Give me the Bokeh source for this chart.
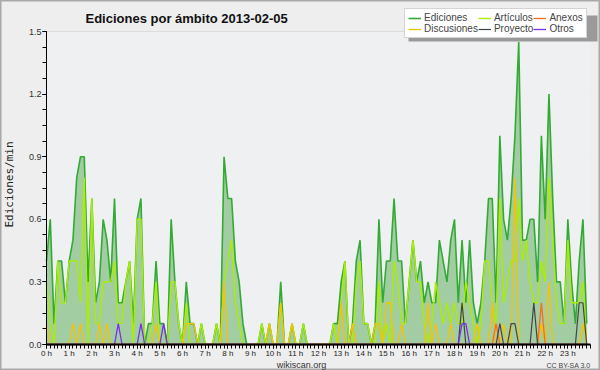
from bokeh.plotting import figure
from bokeh.models import (ColumnDataSource, FixedTicker, Legend, LegendItem, Label,
                          Range1d, PrintfTickFormatter, BoxAnnotation)
from bokeh.embed import file_html
from bokeh.resources import INLINE

# 10-minute steps over the day (index / 6 = hour)
hour_ticks = list(range(24))
hour_labels = [f"{h} h" for h in hour_ticks]
y_ticks = [0, 0.3, 0.6, 0.9, 1.2, 1.5]

ediciones = [
    0.4, 0.6, 0.1, 0.4, 0.4, 0.2, 0.4, 0.5, 0.8, 0.9, 0.9, 0.3,
    0.7, 0.2, 0.3, 0.6, 0.5, 0.3, 0.7, 0.2, 0.2, 0.3, 0.4, 0.1,
    0.6, 0.7, 0.0, 0.1, 0.1, 0.4, 0.1, 0.1, 0.0, 0.6, 0.3, 0.1,
    0.0, 0.3, 0.1, 0.1, 0.0, 0.1, 0.0, 0.0, 0.0, 0.1, 0.0, 0.9,
    0.7, 0.7, 0.4, 0.3, 0.1, 0.0, 0.0, 0.0, 0.0, 0.1, 0.0, 0.1,
    0.0, 0.0, 0.3, 0.0, 0.0, 0.1, 0.0, 0.0, 0.1, 0.0, 0.0, 0.0,
    0.0, 0.0, 0.0, 0.0, 0.1, 0.1, 0.3, 0.4, 0.0, 0.1, 0.4, 0.5,
    0.1, 0.1, 0.0, 0.1, 0.6, 0.2, 0.4, 0.4, 0.7, 0.4, 0.4, 0.1,
    0.3, 0.5, 0.3, 0.4, 0.2, 0.3, 0.2, 0.2, 0.5, 0.4, 0.3, 0.5,
    0.6, 0.2, 0.5, 0.2, 0.5, 0.2, 0.1, 0.2, 0.4, 0.7, 0.7, 0.2,
    1.0, 0.6, 0.5, 0.7, 1.0, 1.45, 0.5, 0.5, 0.6, 0.6, 0.3, 1.0,
    0.6, 1.2, 0.7, 0.3, 0.3, 0.1, 0.6, 0.3, 0.1, 0.4, 0.6, 0.1,
]
articulos = [
    0.3, 0.1, 0.0, 0.4, 0.2, 0.2, 0.4, 0.4, 0.4, 0.2, 0.8, 0.0,
    0.7, 0.1, 0.1, 0.3, 0.3, 0.3, 0.4, 0.1, 0.1, 0.3, 0.4, 0.0,
    0.6, 0.6, 0.0, 0.0, 0.1, 0.3, 0.0, 0.0, 0.0, 0.3, 0.3, 0.1,
    0.0, 0.2, 0.0, 0.0, 0.0, 0.1, 0.0, 0.0, 0.0, 0.1, 0.0, 0.3,
    0.4, 0.5, 0.2, 0.1, 0.0, 0.0, 0.0, 0.0, 0.0, 0.1, 0.0, 0.1,
    0.0, 0.0, 0.2, 0.0, 0.0, 0.1, 0.0, 0.0, 0.1, 0.0, 0.0, 0.0,
    0.0, 0.0, 0.0, 0.0, 0.1, 0.0, 0.2, 0.4, 0.0, 0.0, 0.3, 0.4,
    0.1, 0.1, 0.0, 0.0, 0.3, 0.0, 0.1, 0.0, 0.4, 0.3, 0.1, 0.1,
    0.3, 0.5, 0.3, 0.3, 0.1, 0.0, 0.1, 0.3, 0.2, 0.1, 0.2, 0.1,
    0.2, 0.1, 0.1, 0.3, 0.2, 0.1, 0.0, 0.1, 0.4, 0.4, 0.2, 0.1,
    0.7, 0.2, 0.3, 0.4, 0.4, 0.7, 0.4, 0.5, 0.3, 0.2, 0.2, 0.4,
    0.3, 0.8, 0.5, 0.2, 0.1, 0.1, 0.5, 0.2, 0.2, 0.2, 0.3, 0.0,
]
discusiones = [
    0.1, 0.0, 0.0, 0.0, 0.0, 0.0, 0.0, 0.1, 0.0, 0.1, 0.0, 0.0,
    0.0, 0.0, 0.1, 0.0, 0.1, 0.0, 0.0, 0.0, 0.0, 0.0, 0.0, 0.0,
    0.0, 0.0, 0.0, 0.0, 0.0, 0.1, 0.0, 0.0, 0.0, 0.0, 0.0, 0.0,
    0.0, 0.1, 0.1, 0.1, 0.0, 0.0, 0.0, 0.0, 0.0, 0.0, 0.0, 0.3,
    0.0, 0.0, 0.0, 0.0, 0.0, 0.0, 0.0, 0.0, 0.0, 0.0, 0.0, 0.1,
    0.0, 0.0, 0.2, 0.0, 0.0, 0.1, 0.0, 0.0, 0.0, 0.0, 0.0, 0.0,
    0.0, 0.0, 0.0, 0.0, 0.0, 0.0, 0.2, 0.0, 0.0, 0.1, 0.0, 0.0,
    0.0, 0.0, 0.0, 0.1, 0.1, 0.0, 0.2, 0.2, 0.0, 0.0, 0.1, 0.0,
    0.0, 0.0, 0.0, 0.0, 0.0, 0.2, 0.0, 0.1, 0.0, 0.0, 0.0, 0.1,
    0.0, 0.0, 0.0, 0.0, 0.0, 0.0, 0.1, 0.0, 0.0, 0.0, 0.2, 0.0,
    0.0, 0.1, 0.0, 0.0, 0.8, 0.0, 0.0, 0.0, 0.0, 0.0, 0.0, 0.1,
    0.0, 0.3, 0.0, 0.0, 0.0, 0.0, 0.0, 0.0, 0.0, 0.0, 0.1, 0.0,
]
anexos = [
    0.0, 0.0, 0.0, 0.0, 0.0, 0.0, 0.0, 0.0, 0.0, 0.0, 0.0, 0.0,
    0.0, 0.0, 0.0, 0.0, 0.0, 0.0, 0.0, 0.0, 0.0, 0.0, 0.0, 0.0,
    0.0, 0.0, 0.0, 0.0, 0.0, 0.0, 0.0, 0.0, 0.0, 0.0, 0.0, 0.0,
    0.0, 0.0, 0.0, 0.0, 0.0, 0.0, 0.0, 0.0, 0.0, 0.0, 0.0, 0.0,
    0.0, 0.0, 0.0, 0.0, 0.0, 0.0, 0.0, 0.0, 0.0, 0.0, 0.0, 0.0,
    0.0, 0.0, 0.0, 0.0, 0.0, 0.0, 0.0, 0.0, 0.0, 0.0, 0.0, 0.0,
    0.0, 0.0, 0.0, 0.0, 0.0, 0.0, 0.0, 0.0, 0.0, 0.0, 0.0, 0.0,
    0.0, 0.0, 0.0, 0.0, 0.0, 0.0, 0.0, 0.0, 0.0, 0.0, 0.0, 0.0,
    0.0, 0.0, 0.0, 0.0, 0.0, 0.0, 0.0, 0.0, 0.0, 0.0, 0.0, 0.0,
    0.0, 0.0, 0.0, 0.0, 0.0, 0.0, 0.0, 0.0, 0.0, 0.0, 0.0, 0.1,
    0.0, 0.0, 0.0, 0.0, 0.0, 0.0, 0.0, 0.0, 0.0, 0.0, 0.0, 0.2,
    0.0, 0.0, 0.0, 0.0, 0.0, 0.0, 0.0, 0.0, 0.0, 0.0, 0.0, 0.0,
]
proyecto = [
    0.0, 0.0, 0.0, 0.0, 0.0, 0.0, 0.0, 0.0, 0.0, 0.0, 0.0, 0.0,
    0.0, 0.0, 0.0, 0.0, 0.0, 0.0, 0.0, 0.0, 0.0, 0.0, 0.0, 0.0,
    0.0, 0.0, 0.0, 0.0, 0.0, 0.0, 0.0, 0.0, 0.0, 0.0, 0.0, 0.0,
    0.0, 0.0, 0.0, 0.0, 0.0, 0.0, 0.0, 0.0, 0.0, 0.0, 0.0, 0.0,
    0.0, 0.0, 0.0, 0.0, 0.0, 0.0, 0.0, 0.0, 0.0, 0.0, 0.0, 0.0,
    0.0, 0.0, 0.0, 0.0, 0.0, 0.0, 0.0, 0.0, 0.0, 0.0, 0.0, 0.0,
    0.0, 0.0, 0.0, 0.0, 0.0, 0.0, 0.0, 0.0, 0.0, 0.0, 0.0, 0.0,
    0.0, 0.0, 0.0, 0.0, 0.0, 0.0, 0.0, 0.0, 0.0, 0.0, 0.0, 0.0,
    0.0, 0.0, 0.0, 0.0, 0.0, 0.0, 0.0, 0.0, 0.0, 0.0, 0.0, 0.0,
    0.0, 0.0, 0.2, 0.0, 0.0, 0.0, 0.0, 0.0, 0.0, 0.0, 0.0, 0.0,
    0.1, 0.0, 0.0, 0.1, 0.1, 0.0, 0.0, 0.0, 0.0, 0.2, 0.0, 0.0,
    0.0, 0.0, 0.0, 0.0, 0.0, 0.0, 0.0, 0.0, 0.0, 0.2, 0.2, 0.0,
]
otros = [
    0.0, 0.0, 0.0, 0.0, 0.0, 0.0, 0.0, 0.0, 0.0, 0.0, 0.0, 0.0,
    0.0, 0.0, 0.0, 0.0, 0.0, 0.0, 0.0, 0.1, 0.0, 0.0, 0.0, 0.0,
    0.0, 0.1, 0.0, 0.0, 0.0, 0.0, 0.0, 0.1, 0.0, 0.0, 0.0, 0.0,
    0.0, 0.0, 0.0, 0.0, 0.0, 0.0, 0.0, 0.0, 0.0, 0.0, 0.0, 0.0,
    0.0, 0.0, 0.0, 0.0, 0.0, 0.0, 0.0, 0.0, 0.0, 0.0, 0.0, 0.0,
    0.0, 0.0, 0.0, 0.0, 0.0, 0.0, 0.0, 0.0, 0.0, 0.0, 0.0, 0.0,
    0.0, 0.0, 0.0, 0.0, 0.0, 0.0, 0.0, 0.0, 0.0, 0.0, 0.0, 0.0,
    0.0, 0.0, 0.0, 0.0, 0.0, 0.0, 0.0, 0.0, 0.0, 0.0, 0.0, 0.0,
    0.0, 0.0, 0.0, 0.0, 0.0, 0.0, 0.0, 0.0, 0.0, 0.0, 0.0, 0.0,
    0.0, 0.0, 0.1, 0.1, 0.0, 0.0, 0.0, 0.0, 0.0, 0.0, 0.0, 0.0,
    0.0, 0.0, 0.0, 0.0, 0.0, 0.0, 0.0, 0.0, 0.0, 0.0, 0.0, 0.0,
    0.0, 0.0, 0.0, 0.0, 0.0, 0.0, 0.0, 0.0, 0.0, 0.0, 0.0, 0.0,
]

steps = list(range(len(ediciones)))
hours = [s / 6 for s in steps]

src = ColumnDataSource(dict(x=hours, ed=ediciones, ar=articulos, di=discusiones,
                            an=anexos, pr=proyecto, ot=otros))

FONT = "Liberation Sans"

# ---- layout geometry (page pixels; the canvas sits at the page's top-left) ----
W, H = 600, 370
X0, X1 = 46, 590   # page x of 0 h and 24 h
Y0, Y1 = 344, 31   # page y of 0.0 and 1.5
XPP = 24.0 / (X1 - X0)
YPP = 1.5 / (Y0 - Y1)

p = figure(width=W, height=H, output_backend="svg", toolbar_location=None,
           x_range=Range1d(-X0 * XPP, 24 + (W - X1) * XPP),
           y_range=Range1d(-(H - Y0) * YPP, 1.5 + Y1 * YPP),
           min_border_left=0, min_border_right=0, min_border_top=0, min_border_bottom=0)
p.title.visible = False
p.background_fill_color = "#eeeeee"
p.border_fill_color = "#eeeeee"
p.outline_line_color = "#a8a8a8"
p.outline_line_width = 2

# plot area background
p.add_layout(BoxAnnotation(left=0, right=24, bottom=0, top=1.5, fill_color="#eff0f2",
                           fill_alpha=1, line_color=None, level="underlay"))

# horizontal grid lines, drawn only over the plot area
grid_y = y_ticks[1:]
p.segment(x0=[0] * len(grid_y), x1=[24] * len(grid_y), y0=grid_y, y1=grid_y,
          line_color="#c8c8c8", line_width=1, level="underlay")
p.xgrid.grid_line_color = None
p.ygrid.grid_line_color = None

# Axes
xa = p.xaxis[0]
xa.fixed_location = 0
xa.bounds = (0, 24)
xa.ticker = FixedTicker(ticks=hour_ticks, minor_ticks=[k / 6 for k in range(145)])
xa.major_label_overrides = {h: lab for h, lab in zip(hour_ticks, hour_labels)}
xa.axis_line_width = 2
xa.axis_line_color = "black"
xa.major_tick_in = 0
xa.minor_tick_in = 0
xa.major_tick_out = 4
xa.minor_tick_out = 4
xa.major_tick_line_color = "black"
xa.minor_tick_line_color = "black"
xa.major_label_standoff = 0
xa.major_label_text_font = FONT
xa.major_label_text_font_size = "8px"
xa.major_label_text_color = "#222222"

ya = p.yaxis[0]
ya.fixed_location = 0
ya.bounds = (0, 1.5)
ya.ticker = FixedTicker(ticks=y_ticks, minor_ticks=[k * 0.075 for k in range(21)])
ya.formatter = PrintfTickFormatter(format="%.1f")
ya.axis_line_color = "black"
ya.major_tick_in = 0
ya.minor_tick_in = 0
ya.major_tick_out = 4
ya.minor_tick_out = 4
ya.major_label_standoff = 1
ya.major_label_text_font = FONT
ya.major_label_text_font_size = "9px"
ya.major_label_text_color = "#333333"

# Glyphs
p.varea(x="x", y1=0, y2="ed", source=src, fill_color="#a2cca2")
r_ed = p.line("x", "ed", source=src, line_color="#33aa33", line_width=1.6)
r_ar = p.line("x", "ar", source=src, line_color="#aaee00", line_width=1.4)
r_di = p.line("x", "di", source=src, line_color="#f5c400", line_width=1.3)
r_an = p.line("x", "an", source=src, line_color="#ff6a1a", line_width=1.3)
r_pr = p.line("x", "pr", source=src, line_color="#444444", line_width=1.2)
r_ot = p.line("x", "ot", source=src, line_color="#7a2ff0", line_width=1.3)

# legend shadow, then legend (screen units from the frame's bottom-left)
p.add_layout(BoxAnnotation(left=408, right=597, bottom=H - 41, top=H - 15,
                           left_units="screen", right_units="screen",
                           bottom_units="screen", top_units="screen",
                           fill_color="#9a9a9a", fill_alpha=1, line_color=None))

legend = Legend(items=[
    LegendItem(label="Ediciones", renderers=[r_ed]),
    LegendItem(label="Artículos", renderers=[r_ar]),
    LegendItem(label="Anexos", renderers=[r_an]),
    LegendItem(label="Discusiones", renderers=[r_di]),
    LegendItem(label="Proyecto", renderers=[r_pr]),
    LegendItem(label="Otros", renderers=[r_ot]),
], location=(404, H - 38), orientation="horizontal", ncols=3)
legend.background_fill_color = "white"
legend.background_fill_alpha = 1
legend.border_line_color = "#aaaaaa"
legend.label_text_font = FONT
legend.label_text_font_size = "10px"
legend.label_height = 10
legend.glyph_height = 10
legend.glyph_width = 13
legend.label_standoff = 3
legend.spacing = 0
legend.padding = 3
legend.margin = 0
p.add_layout(legend, "center")

# Title, axis title and footer texts (screen units from the frame's bottom-left)
p.add_layout(Label(x=85, y=H - 18, x_units="screen", y_units="screen",
                   text="Ediciones por ámbito  2013-02-05", text_align="left",
                   text_baseline="alphabetic", text_font=FONT, text_font_size="13px",
                   text_font_style="bold", text_color="#111111"))
p.add_layout(Label(x=9, y=H - 184, x_units="screen", y_units="screen",
                   text="Ediciones/min", angle=90, angle_units="deg",
                   text_align="center", text_baseline="middle",
                   text_font="DejaVu Sans Mono", text_font_size="11px",
                   text_color="#222222"))
p.add_layout(Label(x=301, y=H - 364, x_units="screen", y_units="screen",
                   text="wikiscan.org", text_align="center", text_baseline="alphabetic",
                   text_font=FONT, text_font_size="9px", text_color="#333333"))
p.add_layout(Label(x=590, y=H - 365, x_units="screen", y_units="screen",
                   text="CC BY-SA 3.0", text_align="right", text_baseline="alphabetic",
                   text_font=FONT, text_font_size="7px", text_color="#444444"))

open("out.html", "w").write(file_html(p, INLINE))
